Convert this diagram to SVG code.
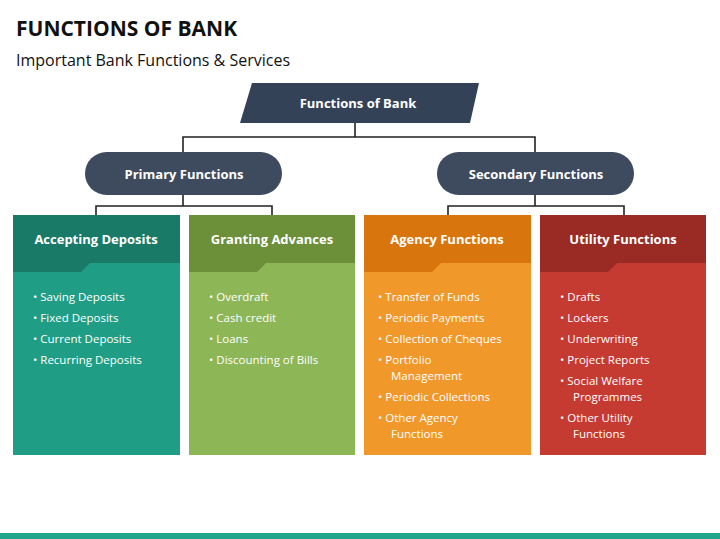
<svg xmlns="http://www.w3.org/2000/svg" width="720" height="539" viewBox="0 0 720 539">
<style>
text{font-family:"Open Sans","Liberation Sans",sans-serif;}
.h{font-size:13px;font-weight:bold;fill:#fff;text-anchor:middle}
.b{font-size:11.5px;fill:#fff}
.c{fill:none;stroke:#222;stroke-width:1.6}
</style>
<rect width="720" height="539" fill="#fff"/>
<text x="16" y="36" font-size="21" font-weight="bold" fill="#111">FUNCTIONS OF BANK</text>
<text x="16" y="66" font-size="16" fill="#111">Important Bank Functions &amp; Services</text>
<g id="connectors">
<path class="c" d="M355 123V137M183 152V137H535V152"/>
<path class="c" d="M183 195V206M96 215V206H272V215"/>
<path class="c" d="M535 195V206M448 215V206H624V215"/>
</g>
<g id="root"><polygon points="252,83 479,83 470,123 240,123" fill="#344258"/><text class="h" x="358" y="108">Functions of Bank</text></g>
<g id="primary"><rect x="85" y="152" width="197" height="43" rx="21.5" fill="#3e4a5e"/><text class="h" x="184" y="179">Primary Functions</text></g>
<g id="secondary"><rect x="437" y="152" width="197" height="43" rx="21.5" fill="#3e4a5e"/><text class="h" x="536" y="179">Secondary Functions</text></g>
<g id="accepting">
<rect x="13" y="215" width="167" height="240" fill="#1f9e85"/>
<path d="M13 215H180V263H90L81 272H13Z" fill="#197a68"/>
<text class="h" x="96" y="244">Accepting Deposits</text>
<g class="b"><text class="b" x="33" y="301">•   Saving Deposits</text><text class="b" x="33" y="322">•   Fixed Deposits</text><text class="b" x="33" y="343">•   Current Deposits</text><text class="b" x="33" y="364">•   Recurring Deposits</text></g>
</g>
<g id="granting">
<rect x="189" y="215" width="166" height="240" fill="#8db657"/>
<path d="M189 215H355V263H266L257 272H189Z" fill="#6c8f3a"/>
<text class="h" x="272" y="244">Granting Advances</text>
<text class="b" x="209" y="301">•   Overdraft</text><text class="b" x="209" y="322">•   Cash credit</text><text class="b" x="209" y="343">•   Loans</text><text class="b" x="209" y="364">•   Discounting of Bills</text>
</g>
<g id="agency">
<rect x="364" y="215" width="167" height="240" fill="#f0982a"/>
<path d="M364 215H531V263H441L432 272H364Z" fill="#d8750d"/>
<text class="h" x="447" y="244">Agency Functions</text>
<text class="b" x="378" y="301">•   Transfer of Funds</text><text class="b" x="378" y="322">•   Periodic Payments</text><text class="b" x="378" y="343">•   Collection of Cheques</text><text class="b" x="378" y="364">•   Portfolio</text><text class="b" x="391" y="380">Management</text><text class="b" x="378" y="401">•   Periodic Collections</text><text class="b" x="378" y="422">•   Other Agency</text><text class="b" x="391" y="438">Functions</text>
</g>
<g id="utility">
<rect x="540" y="215" width="166" height="240" fill="#c53a31"/>
<path d="M540 215H706V263H617L608 272H540Z" fill="#9a2a24"/>
<text class="h" x="623" y="244">Utility Functions</text>
<text class="b" x="560" y="301">•   Drafts</text><text class="b" x="560" y="322">•   Lockers</text><text class="b" x="560" y="343">•   Underwriting</text><text class="b" x="560" y="364">•   Project Reports</text><text class="b" x="560" y="385">•   Social Welfare</text><text class="b" x="573" y="401">Programmes</text><text class="b" x="560" y="422">•   Other Utility</text><text class="b" x="573" y="438">Functions</text>
</g>
<rect x="0" y="533" width="720" height="6" fill="#1fa58a"/>
</svg>
